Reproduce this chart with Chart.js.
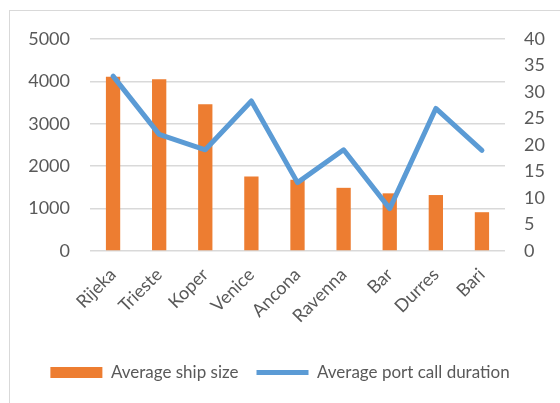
<!DOCTYPE html>
<html>
<head>
<meta charset="utf-8">
<script src="https://cdn.jsdelivr.net/npm/chart.js@4"></script>
<style>
  html, body { margin: 0; padding: 0; background: #fff; overflow: hidden; }
  #wrap { position: relative; width: 560px; height: 403px; }
  #frame { position: absolute; left: 9px; top: 10px; width: 600px; height: 450px; border: 1px solid #d9d9d9; }
  canvas { position: absolute; left: 0; top: 0; }
</style>
</head>
<body>
<div id="wrap">
  <div id="frame"></div>
  <canvas id="grafico" width="560" height="403"></canvas>
</div>
<script>
// Dados do gráfico
const portos = ['Rijeka', 'Trieste', 'Koper', 'Venice', 'Ancona', 'Ravenna', 'Bar', 'Durres', 'Bari'];
const tamanhoMedio = [4110, 4050, 3460, 1760, 1680, 1490, 1360, 1320, 915];
const duracaoMedia = [33, 22, 19.1, 28.3, 12.9, 19.1, 8, 26.9, 19];

const corTexto = '#595959';
const corGrade = '#d9d9d9';
const fonte = 'Lato, "Liberation Sans", sans-serif';

const ctx = document.getElementById('grafico').getContext('2d');

new Chart(ctx, {
    type: 'bar',
    data: {
        labels: portos,
        datasets: [
            {
                type: 'line',
                label: 'Average port call duration',
                data: duracaoMedia,
                yAxisID: 'y2',
                borderColor: '#5b9bd5',
                backgroundColor: '#5b9bd5',
                borderWidth: 5,
                borderCapStyle: 'round',
                borderJoinStyle: 'round',
                pointRadius: 0,
                pointStyle: 'line',
                tension: 0,
                order: 0
            },
            {
                label: 'Average ship size',
                data: tamanhoMedio,
                yAxisID: 'y',
                backgroundColor: '#ed7d31',
                borderWidth: 0,
                categoryPercentage: 1,
                barPercentage: 0.31,
                pointStyle: 'rect',
                order: 1
            }
        ]
    },
    options: {
        responsive: false,
        animation: false,
        layout: { padding: { top: 39, right: 0, bottom: 12, left: 0 } },
        scales: {
            x: {
                grid: { display: false },
                border: { display: false },
                ticks: {
                    color: corTexto,
                    font: { family: fonte, size: 18 },
                    maxRotation: 45,
                    minRotation: 45,
                    padding: 5
                },
                afterFit: function (scale) { scale.height = 95; }
            },
            y: {
                position: 'left',
                min: 0,
                max: 5000,
                ticks: {
                    stepSize: 1000,
                    color: corTexto,
                    font: { family: fonte, size: 18 },
                    padding: 20,
                    callback: function (value) { return String(value); }
                },
                grid: { color: corGrade, lineWidth: 1.5, drawTicks: false },
                border: { display: false },
                afterFit: function (scale) { scale.width = 90; }
            },
            y2: {
                position: 'right',
                min: 0,
                max: 40,
                ticks: {
                    stepSize: 5,
                    color: corTexto,
                    font: { family: fonte, size: 18 },
                    padding: 19,
                    callback: function (value) { return String(value); }
                },
                grid: { display: false, drawTicks: false },
                border: { display: false },
                afterFit: function (scale) { scale.width = 55; }
            }
        },
        plugins: {
            tooltip: { enabled: false },
            legend: {
                position: 'bottom',
                reverse: true,
                labels: {
                    color: corTexto,
                    font: { family: fonte, size: 17 },
                    usePointStyle: true,
                    pointStyleWidth: 52,
                    boxHeight: 11,
                    padding: 18
                }
            }
        }
    }
});
</script>
</body>
</html>
